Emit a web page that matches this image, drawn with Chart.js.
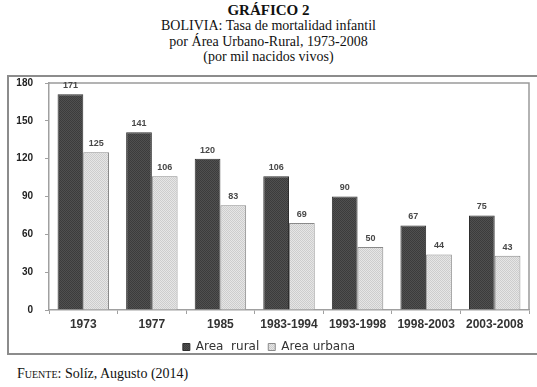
<!DOCTYPE html>
<html>
<head>
<meta charset="utf-8">
<script src="https://cdn.jsdelivr.net/npm/chart.js@4"></script>
<style>
  body { margin: 0; width: 537px; height: 387px; background: #fff; overflow: hidden; position: relative; }
  .title { position: absolute; left: 0; top: 3px; width: 537px; text-align: center; font-family: "Liberation Serif", serif; font-size: 14px; line-height: 15.4px; color: #111; }
  .title b { font-size: 15px; }
  .frame { position: absolute; left: 7px; top: 75px; width: 540px; height: 276px; border: 2px solid #8c8c8c; border-right: none; }
  .chartbox { position: absolute; left: 9px; top: 77px; width: 528px; height: 274px; overflow: hidden; }
  .source { position: absolute; left: 17px; top: 366px; font-family: "Liberation Serif", serif; font-size: 14px; color: #111; }
  .source span { font-variant: small-caps; }
</style>
</head>
<body>
<div class="title"><b>GRÁFICO 2</b><br>BOLIVIA: Tasa de mortalidad infantil<br>por Área Urbano-Rural, 1973-2008<br>(por mil nacidos vivos)</div>
<div class="frame"></div>
<div class="chartbox"><canvas id="chart" width="528" height="286"></canvas></div>
<div class="source"><span>Fuente</span>: Solíz, Augusto (2014)</div>
<script>
const periods = ['1973', '1977', '1985', '1983-1994', '1993-1998', '1998-2003', '2003-2008'];
const rural = [171, 141, 120, 106, 90, 67, 75];
const urbana = [125, 106, 83, 69, 50, 44, 43];
const yTicks = [0, 30, 60, 90, 120, 150, 180];

function makePattern(c1, c2) {
  const p = document.createElement('canvas');
  p.width = 2; p.height = 2;
  const g = p.getContext('2d');
  g.fillStyle = c1; g.fillRect(0, 0, 2, 2);
  g.fillStyle = c2; g.fillRect(0, 0, 1, 1); g.fillRect(1, 1, 1, 1);
  return g.createPattern(p, 'repeat');
}
const ctx = document.getElementById('chart').getContext('2d');
const darkFill = makePattern('#505050', '#3c3c3c');
const lightFill = makePattern('#e6e6e6', '#cdcdcd');

// bar values above each bar, and the top/right border of the plot area
const extras = {
  id: 'extras',
  afterDraw(chart) {
    const c = chart.ctx, a = chart.chartArea;
    c.save();
    c.strokeStyle = '#9a9a9a';
    c.lineWidth = 1.5;
    c.beginPath();
    c.moveTo(a.left, a.top); c.lineTo(a.right, a.top); c.lineTo(a.right, a.bottom);
    c.stroke();
    c.font = 'bold 9px "Liberation Sans"';
    c.fillStyle = '#484848';
    c.textAlign = 'center';
    c.textBaseline = 'bottom';
    chart.data.datasets.forEach((ds, i) => {
      chart.getDatasetMeta(i).data.forEach((bar, j) => {
        c.fillText(ds.data[j], bar.x, bar.y - 4);
      });
    });
    c.restore();
  }
};

new Chart(ctx, {
  type: 'bar',
  data: {
    labels: periods,
    datasets: [
      { label: 'Area  rural', data: rural, backgroundColor: darkFill, borderColor: '#2e2e2e', borderWidth: 1 },
      { label: 'Area urbana', data: urbana, backgroundColor: lightFill, borderColor: '#8a8a8a', borderWidth: 1 }
    ]
  },
  options: {
    responsive: false,
    animation: false,
    layout: { padding: { top: 6, right: 8, left: 0, bottom: 0 } },
    datasets: { bar: { categoryPercentage: 0.75, barPercentage: 1.0 } },
    plugins: {
      tooltip: { enabled: false },
      legend: {
        position: 'bottom',
        labels: {
          boxWidth: 7, boxHeight: 7, padding: 9,
          color: '#333',
          font: { family: 'DejaVu Sans', size: 12 }
        }
      }
    },
    scales: {
      x: {
        grid: { drawOnChartArea: false, color: '#a0a0a0', tickLength: 4 },
        border: { color: '#a0a0a0', width: 1.5 },
        ticks: { color: '#333', font: { family: 'Liberation Sans', size: 12, weight: 'bold' }, padding: 3, maxRotation: 0, autoSkip: false },
        afterFit(s) { s.height = 22; }
      },
      y: {
        min: 0, max: 180,
        afterBuildTicks(s) { s.ticks = yTicks.map(v => ({ value: v })); },
        grid: { drawOnChartArea: false, color: '#a0a0a0', tickLength: 4 },
        border: { color: '#a0a0a0', width: 1.5 },
        ticks: { color: '#222', font: { family: 'Liberation Sans', size: 10, weight: 'bold' }, padding: 12 },
        afterFit(s) { s.width = 40; s.paddingTop = 0; s.paddingBottom = 0; }
      }
    }
  },
  plugins: [extras]
});
</script>
</body>
</html>
